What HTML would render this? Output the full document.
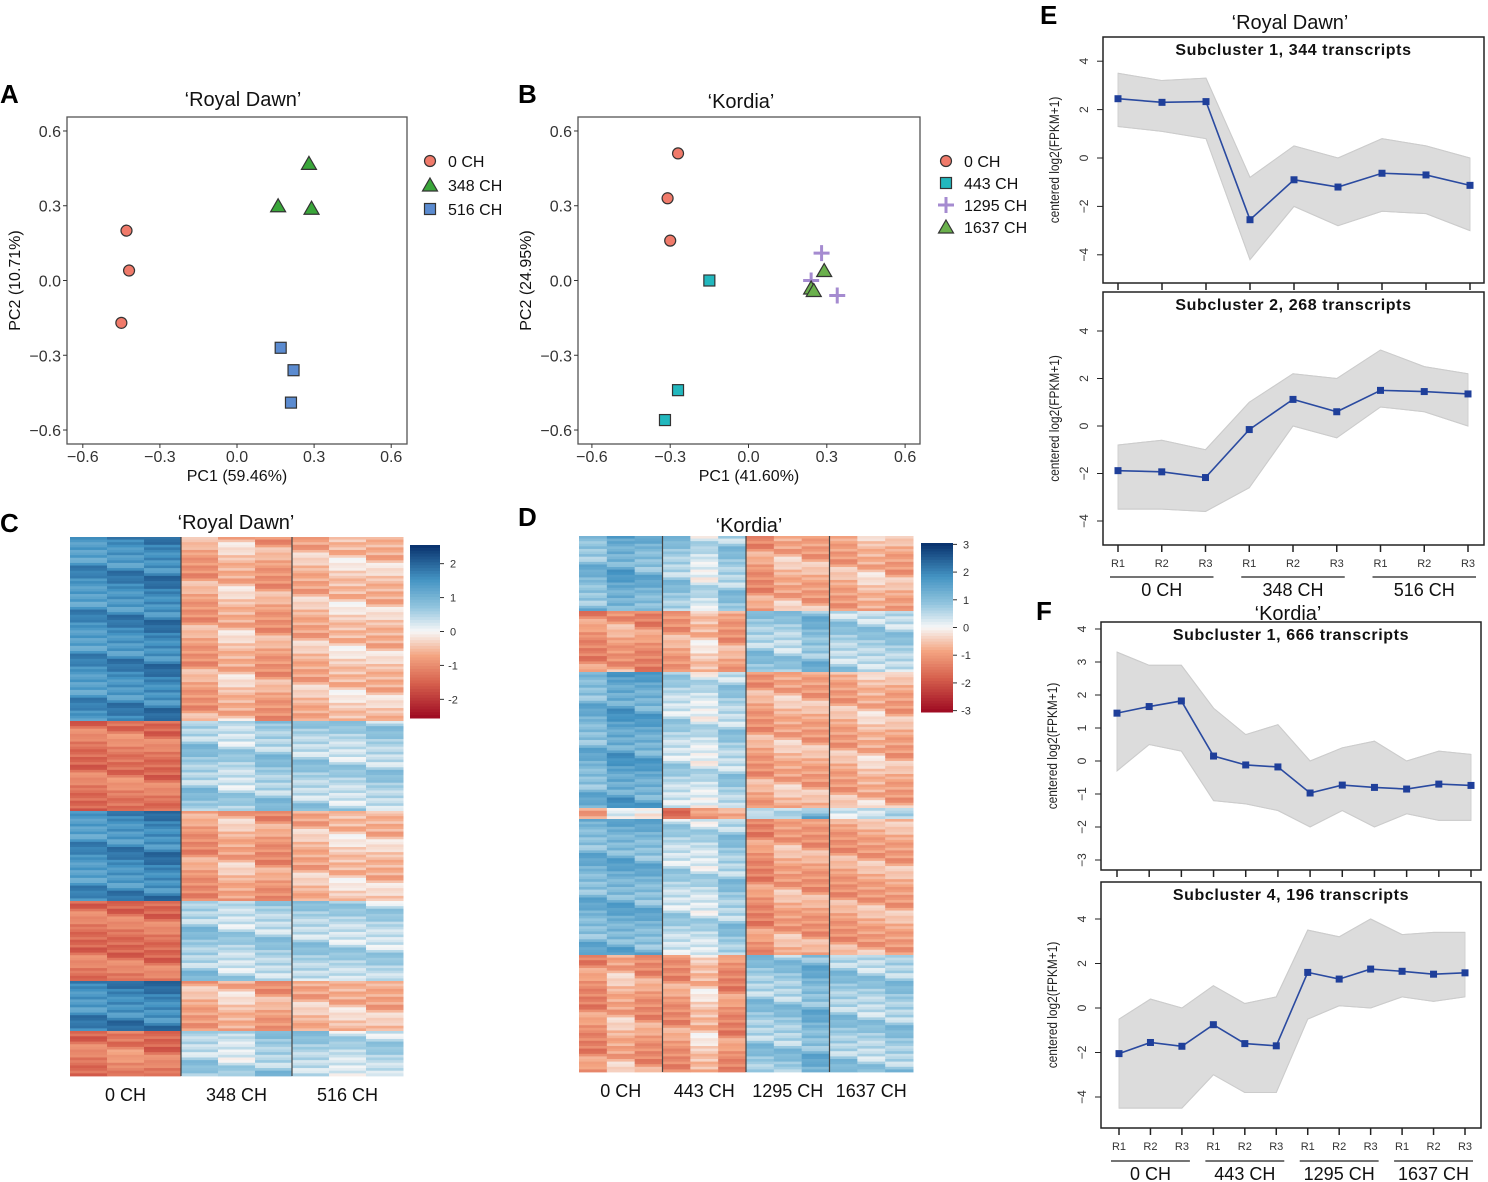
<!DOCTYPE html>
<html><head><meta charset="utf-8">
<style>
html,body{margin:0;padding:0;background:#fff;}
svg{display:block;font-family:"Liberation Sans",Arial,sans-serif;}
</style></head>
<body>
<svg id="fig" width="1488" height="1182" viewBox="0 0 1488 1182" xmlns="http://www.w3.org/2000/svg">
  <g font-weight="bold" font-size="26" fill="#000">
    <text x="0" y="103">A</text>
    <text x="518" y="103">B</text>
    <text x="0" y="532">C</text>
    <text x="518" y="526">D</text>
    <text x="1040" y="24">E</text>
    <text x="1036" y="620">F</text>
  </g>
  <g font-size="20" text-anchor="middle" fill="#111">
    <text x="243" y="106">‘Royal Dawn’</text>
    <text x="741" y="108">‘Kordia’</text>
    <text x="236" y="529">‘Royal Dawn’</text>
    <text x="749" y="532">‘Kordia’</text>
    <text x="1290" y="29">‘Royal Dawn’</text>
    <text x="1288" y="620">‘Kordia’</text>
  </g>
  <g id="root"></g>
</svg>
<script>
// ---------- PCA data ----------
const pcaTicks = [-0.6, -0.3, 0.0, 0.3, 0.6];
const pcaTickLabels = ["\u22120.6", "\u22120.3", "0.0", "0.3", "0.6"];
const aGroups = ["0 CH", "348 CH", "516 CH"];
const aPC1_0 = [-0.43, -0.42, -0.45];
const aPC2_0 = [0.20, 0.04, -0.17];
const aPC1_348 = [0.28, 0.16, 0.29];
const aPC2_348 = [0.47, 0.30, 0.29];
const aPC1_516 = [0.17, 0.22, 0.21];
const aPC2_516 = [-0.27, -0.36, -0.49];
const bGroups = ["0 CH", "443 CH", "1295 CH", "1637 CH"];
const bPC1_0 = [-0.27, -0.31, -0.30];
const bPC2_0 = [0.51, 0.33, 0.16];
const bPC1_443 = [-0.15, -0.27, -0.32];
const bPC2_443 = [0.00, -0.44, -0.56];
const bPC1_1295 = [0.28, 0.24, 0.34];
const bPC2_1295 = [0.11, 0.00, -0.06];
const bPC1_1637 = [0.29, 0.24, 0.25];
const bPC2_1637 = [0.04, -0.03, -0.04];

// ---------- Heatmap data (block means per sample column) ----------
const cRowCounts = [184, 90, 90, 80, 50, 45];
const cBlocks = [
  [1.4,1.5,1.6,-0.8,-0.5,-0.8,-0.6,-0.4,-0.5],
  [-1.3,-1.2,-1.3,0.6,0.4,0.6,0.5,0.4,0.5],
  [1.4,1.5,1.6,-0.9,-0.6,-0.9,-0.6,-0.4,-0.5],
  [-1.3,-1.3,-1.3,0.6,0.4,0.5,0.5,0.4,0.4],
  [1.5,1.6,1.6,-0.7,-0.5,-0.8,-0.6,-0.5,-0.6],
  [-1.3,-1.1,-1.3,0.5,0.3,0.6,0.5,0.3,0.4]
];
const cGroups = ["0 CH", "348 CH", "516 CH"];
const cScaleTicks = [2, 1, 0, -1, -2];
const dRowCounts = [75, 61, 136, 11, 136, 117];
const dBlocks = [
  [0.8,1.1,0.9,0.6,0.2,0.6,-0.9,-0.6,-0.7,-0.7,-0.5,-0.7],
  [-1.0,-0.8,-1.0,-0.8,-0.4,-0.8,0.6,0.5,0.8,0.5,0.5,0.5],
  [0.9,1.2,1.1,0.4,0.2,0.5,-0.8,-0.6,-0.7,-0.7,-0.5,-0.7],
  [-0.6,0.3,0.0,-1.3,-0.8,-0.8,0.1,0.2,0.9,0.4,0.4,0.6],
  [0.9,1.0,0.9,0.4,0.3,0.6,-1.0,-0.7,-0.8,-0.8,-0.7,-0.7],
  [-1.0,-0.6,-0.9,-0.9,-0.4,-1.0,0.6,0.6,0.9,0.6,0.5,0.6]
];
const dGroups = ["0 CH", "443 CH", "1295 CH", "1637 CH"];
const dScaleTicks = [3, 2, 1, 0, -1, -2, -3];
const rowNoise = [0.3,-0.5,0.1,0.6,-0.2,-0.7,0.4,0.0,-0.3,0.8,-0.1,0.2,-0.6,0.5,-0.4,0.1,0.7];

// ---------- Line panel data ----------
const e1Mean = [2.45,2.3,2.33,-2.55,-0.9,-1.2,-0.63,-0.7,-1.13];
const e1Upper = [3.5,3.2,3.3,-0.8,0.5,0.0,0.8,0.5,0.0];
const e1Lower = [1.3,1.1,0.8,-4.2,-2.0,-2.8,-2.2,-2.3,-3.0];
const e2Mean = [-1.88,-1.93,-2.17,-0.15,1.12,0.6,1.5,1.45,1.35];
const e2Upper = [-0.8,-0.6,-1.0,1.0,2.2,2.0,3.2,2.5,2.2];
const e2Lower = [-3.5,-3.5,-3.6,-2.6,0.0,-0.5,0.8,0.6,0.0];
const f1Mean = [1.45,1.65,1.82,0.15,-0.12,-0.18,-0.97,-0.73,-0.8,-0.85,-0.7,-0.74];
const f1Upper = [3.3,2.9,2.9,1.6,0.8,1.1,0.0,0.4,0.6,0.0,0.3,0.2];
const f1Lower = [-0.3,0.5,0.3,-1.2,-1.3,-1.5,-2.0,-1.5,-2.0,-1.6,-1.8,-1.8];
const f2Mean = [-2.05,-1.55,-1.72,-0.75,-1.6,-1.7,1.6,1.3,1.75,1.65,1.52,1.58];
const f2Upper = [-0.5,0.4,0.0,1.0,0.2,0.5,3.5,3.2,4.0,3.3,3.4,3.4];
const f2Lower = [-4.5,-4.5,-4.5,-3.0,-3.8,-3.8,-0.5,0.1,0.0,0.5,0.3,0.5];
const eTicks = [4, 2, 0, -2, -4];
const fTicks1 = [4, 3, 2, 1, 0, -1, -2, -3];
const fTicks2 = [4, 2, 0, -2, -4];
const reps = ["R1", "R2", "R3"];
const eGroups = ["0 CH", "348 CH", "516 CH"];
const fGroups = ["0 CH", "443 CH", "1295 CH", "1637 CH"];

// ---------- helpers ----------
const NS = "http://www.w3.org/2000/svg";
const root = document.getElementById("root");
function mk(tag, attrs, parent) {
  const el = document.createElementNS(NS, tag);
  for (const k in attrs) el.setAttribute(k, attrs[k]);
  (parent || root).appendChild(el);
  return el;
}
function txt(x, y, s, size, anchor, parent, extra) {
  const t = mk("text", Object.assign({x: x, y: y, "font-size": size, "text-anchor": anchor || "middle", fill: "#111"}, extra || {}), parent);
  t.textContent = s;
  return t;
}
function lin(d0, d1, r0, r1) { return v => r0 + (v - d0) / (d1 - d0) * (r1 - r0); }

// ---------- PCA panels ----------
function pcaPanel(name, box, x0, xUnit, title1, title2) {
  const g = mk("g", {});
  
  
  const sx = v => x0 + v * xUnit;
  const sy = v => 280.5 - v * 249.2;
  const frame = mk("rect", {x: box[0], y: box[1], width: box[2]-box[0], height: box[3]-box[1], fill: "#fff", stroke: "#555", "stroke-width": 1.3}, g);
  
  
  pcaTicks.forEach((t, i) => {
    mk("line", {x1: sx(t), x2: sx(t), y1: box[3], y2: box[3]+4, stroke: "#333"}, g);
    const xl = txt(sx(t), box[3]+18, pcaTickLabels[i], 16, "middle", g, {fill: "#333"});
    
    
    mk("line", {x1: box[0]-4, x2: box[0], y1: sy(t), y2: sy(t), stroke: "#333"}, g);
    const yl = txt(box[0]-6, sy(t)+6, pcaTickLabels[i], 16, "end", g, {fill: "#333"});
    
    
  });
  const xt = txt((box[0]+box[2])/2, box[3]+37, title1, 16, "middle", g);
  
  
  const cy = (box[1]+box[3])/2;
  const yt = txt(box[0]-47, cy, title2, 16, "middle", g, {transform: "rotate(-90 " + (box[0]-47) + " " + cy + ")"});
  
  
  return {g: g, sx: sx, sy: sy};
}
function marker(shape, x, y, color, parent) {
  let el;
  if (shape === "circle") el = mk("circle", {cx: x, cy: y, r: 5.5, fill: color, stroke: "#333", "stroke-width": 1.2}, parent);
  else if (shape === "square") el = mk("rect", {x: x-5.5, y: y-5.5, width: 11, height: 11, fill: color, stroke: "#333", "stroke-width": 1.2}, parent);
  else if (shape === "tri") el = mk("path", {d: "M"+x+","+(y-7)+" L"+(x+7.5)+","+(y+6)+" L"+(x-7.5)+","+(y+6)+" Z", fill: color, stroke: "#333", "stroke-width": 1.2}, parent);
  else el = mk("path", {d: "M"+(x-8)+","+y+" H"+(x+8)+" M"+x+","+(y-8)+" V"+(y+8), stroke: color, "stroke-width": 3, fill: "none"}, parent);
  return el;
}
function points(p, xs, ys, shape, color, nm) {
  xs.forEach((v, i) => {
    const m = marker(shape, p.sx(v), p.sy(ys[i]), color, p.g);
    
    
  });
}
function legend(lx, ly, step, labels, shapes, colors, parent, nm) {
  labels.forEach((l, i) => {
    const m = marker(shapes[i], lx, ly + i*step, colors[i], parent);
    
    
    const t = txt(lx + 18, ly + i*step + 6, l, 16, "start", parent);
    
    
  });
}
const pA = pcaPanel("pca-royal-dawn", [67,117,407,444], 237, 257, "PC1 (59.46%)", "PC2 (10.71%)");
points(pA, aPC1_0, aPC2_0, "circle", "#f07a6a", "point-0ch");
points(pA, aPC1_348, aPC2_348, "tri", "#3aa63a", "point-348ch");
points(pA, aPC1_516, aPC2_516, "square", "#5b8bd0", "point-516ch");
legend(430, 161, 24, aGroups, ["circle","tri","square"], ["#f07a6a","#3aa63a","#5b8bd0"], pA.g, "pca-a");

const pB = pcaPanel("pca-kordia", [578,117,920,444], 748.5, 261, "PC1 (41.60%)", "PC2 (24.95%)");
points(pB, bPC1_0, bPC2_0, "circle", "#f07a6a", "point-0ch");
points(pB, bPC1_443, bPC2_443, "square", "#22b8be", "point-443ch");
points(pB, bPC1_1295, bPC2_1295, "plus", "#a58bd0", "point-1295ch");
points(pB, bPC1_1637, bPC2_1637, "tri", "#6ab04c", "point-1637ch");
legend(946, 161, 22, bGroups, ["circle","square","plus","tri"], ["#f07a6a","#22b8be","#a58bd0","#6ab04c"], pB.g, "pca-b");

// ---------- heatmaps ----------
const stops = [[-2.5,[158,10,34]],[-1.5,[214,96,77]],[-0.7,[244,165,130]],[0,[247,247,247]],[0.7,[146,197,222]],[1.5,[67,147,195]],[2.5,[8,48,107]]];
function col(v) {
  if (v <= stops[0][0]) v = stops[0][0];
  if (v >= stops[stops.length-1][0]) v = stops[stops.length-1][0];
  for (let i = 0; i < stops.length-1; i++) {
    const a = stops[i], b = stops[i+1];
    if (v >= a[0] && v <= b[0]) {
      const t = (v - a[0]) / (b[0] - a[0]);
      const c = a[1].map((x, k) => Math.round(x + (b[1][k]-x)*t));
      return "rgb(" + c.join(",") + ")";
    }
  }
  return "#f7f7f7";
}
function heatmap(name, x0, x1, y0, y1, counts, blocks, groups, labelY, scaleBox, scaleTicks, scaleMax) {
  const g = mk("g", {});
  
  
  const nCol = blocks[0].length;
  const total = counts.reduce((a, b) => a + b, 0);
  const sy = lin(0, total, y0, y1);
  const cw = (x1 - x0) / nCol;
  const rowH = 2.6;
  let acc = 0;
  counts.forEach((n, bi) => {
    const ya = sy(acc), yb = sy(acc + n);
    const nr = Math.max(1, Math.round((yb - ya) / rowH));
    const h = (yb - ya) / nr;
    for (let r = 0; r < nr; r++) {
      for (let c = 0; c < nCol; c++) {
        const v = blocks[bi][c] + rowNoise[(r*7 + c*3 + bi*5) % rowNoise.length] * 0.55;
        const cell = mk("rect", {x: x0 + c*cw, y: ya + r*h, width: cw + 0.5, height: h + 0.4, fill: col(v)}, g);
        
        
      }
    }
    acc += n;
  });
  const per = nCol / groups.length;
  groups.forEach((gl, i) => {
    if (i > 0) mk("line", {x1: x0 + i*per*cw, x2: x0 + i*per*cw, y1: y0, y2: y1, stroke: "#444", "stroke-width": 1.2}, g);
    const t = txt(x0 + (i + 0.5)*per*cw, labelY, gl, 18, "middle", g);
    
    
  });
  const [bx0, by0, bx1, by1] = scaleBox;
  const sg = mk("g", {}, g);
  
  
  const steps = 60;
  for (let i = 0; i < steps; i++) {
    const v = scaleMax - (i + 0.5) / steps * 2 * scaleMax;
    mk("rect", {x: bx0, y: by0 + i*(by1-by0)/steps, width: bx1-bx0, height: (by1-by0)/steps + 0.5, fill: col(v * 2.5 / scaleMax)}, sg);
  }
  const ssy = lin(scaleMax, -scaleMax, by0, by1);
  scaleTicks.forEach(t => {
    mk("line", {x1: bx1, x2: bx1+4, y1: ssy(t), y2: ssy(t), stroke: "#333"}, sg);
    const tl = txt(bx1 + 13, ssy(t) + 4, String(t), 11, "middle", sg, {fill: "#333"});
    
    
  });
}
heatmap("heatmap-royal-dawn", 70, 403, 537, 1076, cRowCounts, cBlocks, cGroups, 1101, [410,545,440,718], cScaleTicks, 2.55);
heatmap("heatmap-kordia", 579, 913, 536, 1072, dRowCounts, dBlocks, dGroups, 1097, [921,543,953,712], dScaleTicks, 3.05);

// ---------- line panels ----------
function linePanel(name, box, zeroY, unit, ticks, px0, px1, mean, upper, lower, title, showX, groups, labY) {
  const g = mk("g", {});
  
  
  const n = mean.length;
  const sx = i => px0 + i * (px1 - px0) / (n - 1);
  const sy = v => zeroY - v * unit;
  const fr = mk("rect", {x: box[0], y: box[1], width: box[2]-box[0], height: box[3]-box[1], fill: "#fff", stroke: "#222", "stroke-width": 1.5}, g);
  
  
  let d = "M" + upper.map((v, i) => sx(i) + "," + sy(v)).join(" L");
  d += " L" + lower.map((v, i) => sx(i) + "," + sy(v)).reverse().join(" L") + " Z";
  const band = mk("path", {d: d, fill: "#dcdcdc", stroke: "#d0d0d0", "stroke-width": 1}, g);
  
  
  [upper, lower].forEach(arr => {
    const p = mk("polyline", {points: arr.map((v, i) => sx(i) + "," + sy(v)).join(" "), fill: "none", stroke: "#cccccc", "stroke-width": 1}, g);
    
    
  });
  const ml = mk("polyline", {points: mean.map((v, i) => sx(i) + "," + sy(v)).join(" "), fill: "none", stroke: "#2a4aa0", "stroke-width": 1.6}, g);
  
  
  mean.forEach((v, i) => {
    const m = mk("rect", {x: sx(i)-3.5, y: sy(v)-3.5, width: 7, height: 7, fill: "#1f3f9a"}, g);
    
    
  });
  const tt = txt((box[0]+box[2])/2, box[1]+18, title, 16, "middle", g, {"font-weight": "bold", "letter-spacing": "0.6"});
  
  
  ticks.forEach(t => {
    mk("line", {x1: box[0]-6, x2: box[0], y1: sy(t), y2: sy(t), stroke: "#222"}, g);
    const tx = box[0] - 15;
    const tl = txt(tx, sy(t), String(t).replace("-", "\u2212"), 12, "middle", g, {transform: "rotate(-90 " + tx + " " + sy(t) + ")", fill: "#333"});
    
    
  });
  const cy = (box[1]+box[3])/2, ax = box[0]-44;
  const yt = txt(ax, cy, "centered log2(FPKM+1)", 14, "middle", g, {fill: "#222"});
  yt.setAttribute("transform", "translate(" + ax + " " + cy + ") rotate(-90) scale(0.85 1) translate(" + (-ax) + " " + (-cy) + ")");
  
  
  for (let i = 0; i < n; i++) mk("line", {x1: sx(i), x2: sx(i), y1: box[3], y2: box[3]+7, stroke: "#222", "stroke-width": 1.5}, g);
  if (showX) {
    for (let i = 0; i < n; i++) {
      const r = txt(sx(i), box[3]+22, reps[i % 3], 11, "middle", g, {fill: "#333"});
      
      
    }
    groups.forEach((gl, k) => {
      const a = sx(k*3) - 8, b = sx(k*3+2) + 8;
      mk("line", {x1: a, x2: b, y1: labY - 14, y2: labY - 14, stroke: "#222", "stroke-width": 1.2}, g);
      const t = txt((a+b)/2, labY + 5, gl, 18, "middle", g);
      
      
    });
  }
}
linePanel("royal-dawn-subcluster-1", [1103,37,1484,283], 158, 24.2, eTicks, 1118, 1470, e1Mean, e1Upper, e1Lower, "Subcluster 1, 344 transcripts", false);
linePanel("royal-dawn-subcluster-2", [1103,292,1484,545], 426, 23.75, eTicks, 1118, 1468, e2Mean, e2Upper, e2Lower, "Subcluster 2, 268 transcripts", true, eGroups, 591);
linePanel("kordia-subcluster-1", [1101,622,1481,870], 761, 33, fTicks1, 1117, 1471, f1Mean, f1Upper, f1Lower, "Subcluster 1, 666 transcripts", false);
linePanel("kordia-subcluster-4", [1101,882,1481,1128], 1008, 22.25, fTicks2, 1119, 1465, f2Mean, f2Upper, f2Lower, "Subcluster 4, 196 transcripts", true, fGroups, 1175);
</script>
</body></html>
